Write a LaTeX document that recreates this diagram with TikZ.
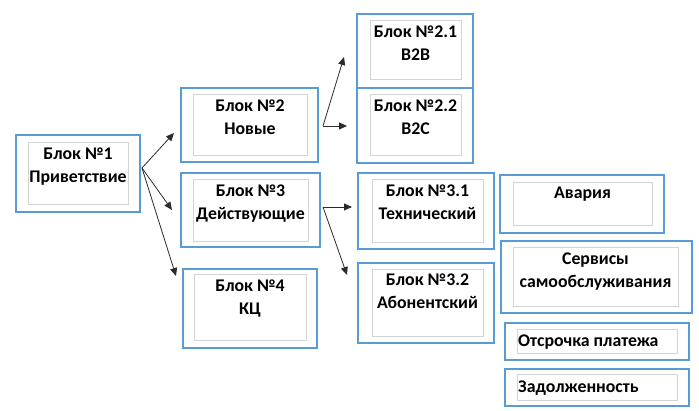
\documentclass[tikz,border=0pt]{standalone}
\usepackage{fontspec}
\setmainfont{Carlito}
\usetikzlibrary{arrows.meta}
\definecolor{blkblue}{HTML}{5B9BD5}
\definecolor{blkgray}{HTML}{D4D4D4}
\definecolor{arrgray}{HTML}{2B2B2B}

\begin{document}
\begin{tikzpicture}[x=1pt,y=-1pt,
  outer/.style={draw=blkblue,line width=2pt,inner sep=0pt},
  inner/.style={draw=blkgray,line width=1pt,inner sep=0pt},
  lbl/.style={font=\fontsize{17.8}{23}\selectfont\bfseries,align=center,inner sep=0pt,anchor=base},
  arr/.style={-{Triangle[length=8pt,width=7pt]},line width=0.8pt,draw=arrgray}
]
\useasboundingbox (0,0) rectangle (699,411);

% level 1
\node[outer,minimum width=124pt,minimum height=77pt] (b1) at (78,173.5) {};
\node[inner,minimum width=100pt,minimum height=62pt] (b1i) at (78,174) {};
\node[lbl] (b1t) at (78,182.5) {Блок №1\\Приветствие};

% level 2
\node[outer,minimum width=137pt,minimum height=74pt] (b2) at (249.5,125) {};
\node[inner,minimum width=114pt,minimum height=61pt] (b2i) at (250,125.5) {};
\node[lbl] (b2t) at (250,135) {Блок №2\\Новые};

\node[outer,minimum width=139pt,minimum height=74pt] (b3) at (250.5,210) {};
\node[inner,minimum width=115pt,minimum height=62pt] (b3i) at (250.5,211) {};
\node[lbl] (b3t) at (250.5,220) {Блок №3\\Действующие};

\node[outer,minimum width=134pt,minimum height=79pt] (b4) at (250,308.5) {};
\node[inner,minimum width=112pt,minimum height=66pt] (b4i) at (250,308) {};
\node[lbl] (b4t) at (250,315) {Блок №4\\КЦ};

% level 3
\node[outer,minimum width=116pt,minimum height=74pt] (b21) at (415,51) {};
\node[inner,minimum width=91pt,minimum height=59pt] (b21i) at (415.5,50.5) {};
\node[lbl] (b21t) at (415.5,61) {Блок №2.1\\B2B};

\node[outer,minimum width=116pt,minimum height=75pt] (b22) at (415,125.5) {};
\node[inner,minimum width=91pt,minimum height=61pt] (b22i) at (415.5,125.5) {};
\node[lbl] (b22t) at (415.5,135) {Блок №2.2\\B2C};

\node[outer,minimum width=136pt,minimum height=76pt] (b31) at (426,211) {};
\node[inner,minimum width=111pt,minimum height=63pt] (b31i) at (427.5,211.5) {};
\node[lbl] (b31t) at (427.5,220) {Блок №3.1\\Технический};

\node[outer,minimum width=136pt,minimum height=80pt] (b32) at (426,303) {};
\node[inner,minimum width=111pt,minimum height=67pt] (b32i) at (427.5,303.5) {};
\node[lbl] (b32t) at (427.5,308.5) {Блок №3.2\\Абонентский};

% right column
\node[outer,minimum width=164pt,minimum height=58pt] (avar) at (582,204) {};
\node[inner,minimum width=139pt,minimum height=43pt] (avari) at (582.5,204.5) {};
\node[lbl] (avart) at (582.5,198.5) {Авария};

\node[outer,minimum width=191pt,minimum height=72pt] (serv) at (596.5,277) {};
\node[inner,minimum width=165pt,minimum height=59pt] (servi) at (595.5,277.5) {};
\node[lbl] (servt) at (595.5,288) {Сервисы\\самообслуживания};

\node[outer,minimum width=184pt,minimum height=37pt] (otsr) at (597,341.5) {};
\node[inner,minimum width=160pt,minimum height=24pt] (otsri) at (597,342) {};
\node[lbl,anchor=base west] (otsrt) at (518,347) {Отсрочка платежа};

\node[outer,minimum width=184pt,minimum height=37pt] (zadl) at (597,387.5) {};
\node[inner,minimum width=160pt,minimum height=26pt] (zadli) at (597,388) {};
\node[lbl,anchor=base west] (zadlt) at (518,393) {Задолженность};

% connectors
\coordinate (s1) at ([xshift=1pt,yshift=5.5pt]b1.east);
\coordinate (e2) at ([xshift=-6pt,yshift=-8pt]b2.west);
\coordinate (e3) at ([xshift=-8pt]b3.west);
\coordinate (e4) at ([xshift=-6pt,yshift=-8pt]b4.north west);
\draw[arr] (s1) -- (e2);
\draw[arr] (s1) -- (e3);
\draw[arr] (s1) -- (e4);

\coordinate (s2) at ([xshift=4pt,yshift=-1pt]b2.east);
\coordinate (e21) at ([xshift=-12pt,yshift=-6pt]b21.west);
\coordinate (e22) at ([xshift=-9pt,yshift=-0.5pt]b22.west);
\draw[arr] (s2) -- (e21);
\draw[arr] (s2) -- (e22);

\coordinate (s3) at ([xshift=2pt,yshift=3pt]b3.east);
\coordinate (e31) at ([xshift=-5pt,yshift=4pt]b31.west);
\coordinate (e32) at ([xshift=-10pt,yshift=-13pt]b32.north west);
\draw[arr] (s3) -- (e31);
\draw[arr] (s3) -- (e32);
\end{tikzpicture}
\end{document}
